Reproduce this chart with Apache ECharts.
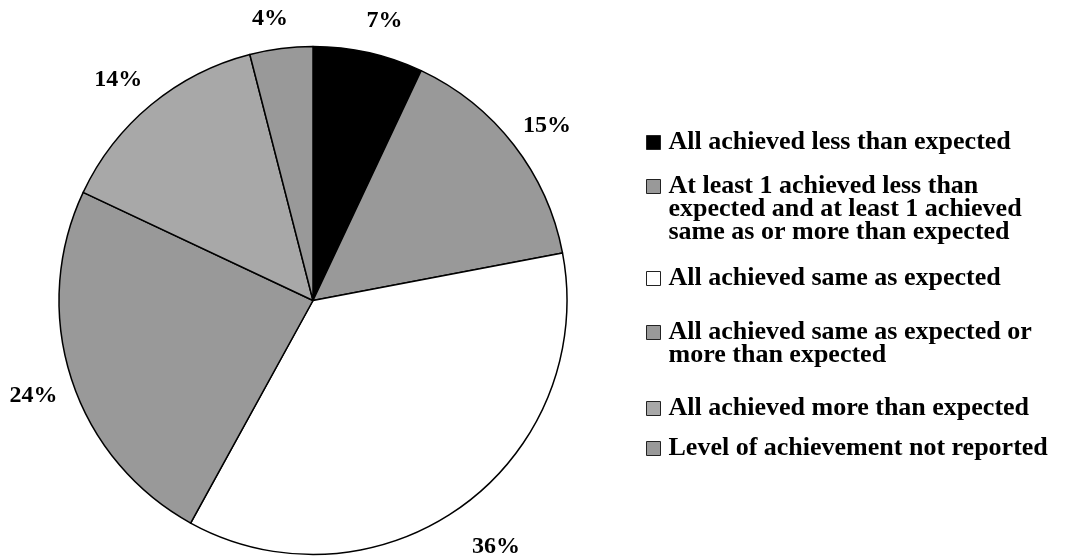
<!DOCTYPE html>
<html>
<head>
<meta charset="utf-8">
<script src="https://cdn.jsdelivr.net/npm/echarts@6/dist/echarts.min.js"></script>
<style>
html,body{margin:0;padding:0;background:#fff;}
#chart{width:1083px;height:557px;}
</style>
</head>
<body>
<div id="chart"></div>
<script>
var categories = [
  'All achieved less than expected',
  'At least 1 achieved less than\nexpected and at least 1 achieved\nsame as or more than expected',
  'All achieved same as expected',
  'All achieved same as expected or\nmore than expected',
  'All achieved more than expected',
  'Level of achievement not reported'
];
var values = [7, 15, 36, 24, 14, 4];
var sliceColors = ['#000000', '#999999', '#ffffff', '#999999', '#a8a8a8', '#999999'];
var legendCenters = [141, 185, 277, 331, 407, 447];
var labelNudges = [[7, 9], [0, 7], [9, 7], [2, 4], [-6, 7], [-6, 12]];

var FONT = '"Liberation Serif", "Times New Roman", serif';
var LH = 23;

var chart = echarts.init(document.getElementById('chart'), null, {renderer: 'canvas'});

var pieData = categories.map(function (n, i) {
  return {name: n, value: values[i], itemStyle: {color: sliceColors[i]}};
});
var labelData = categories.map(function (n, i) {
  return {name: n, value: values[i], label: {offset: labelNudges[i]}};
});

var legends = categories.map(function (n, i) {
  var lines = n.split('\n').length;
  var pre = new Array(lines).join('\n');
  return {
    data: [n],
    orient: 'vertical',
    left: 646,
    top: legendCenters[i] - (2 * lines - 1) * LH / 2,
    padding: 0,
    itemWidth: 14,
    itemHeight: 14,
    icon: 'rect',
    selectedMode: false,
    formatter: function (name) { return pre + name; },
    itemStyle: {borderColor: '#222', borderWidth: 1},
    textStyle: {
      fontFamily: FONT, fontWeight: 'bold', fontSize: 26, color: '#000',
      lineHeight: LH, padding: [0, 0, 0, 3]
    }
  };
});

chart.setOption({
  animation: false,
  backgroundColor: '#fff',
  legend: legends,
  series: [
    {
      type: 'pie',
      center: [313, 300.5],
      radius: [0, 254],
      startAngle: 90,
      clockwise: true,
      data: pieData,
      label: {show: false},
      labelLine: {show: false},
      itemStyle: {borderColor: '#000', borderWidth: 1.5},
      emphasis: {disabled: true}
    },
    {
      type: 'pie',
      center: [313, 300.5],
      radius: [279, 307],
      startAngle: 90,
      clockwise: true,
      silent: true,
      data: labelData,
      itemStyle: {color: 'rgba(0,0,0,0)', borderWidth: 0},
      label: {
        show: true, position: 'inside', formatter: '{c}%',
        fontFamily: FONT, fontWeight: 'bold', fontSize: 24, color: '#000'
      },
      labelLine: {show: false},
      emphasis: {disabled: true}
    }
  ]
});
</script>
</body>
</html>
